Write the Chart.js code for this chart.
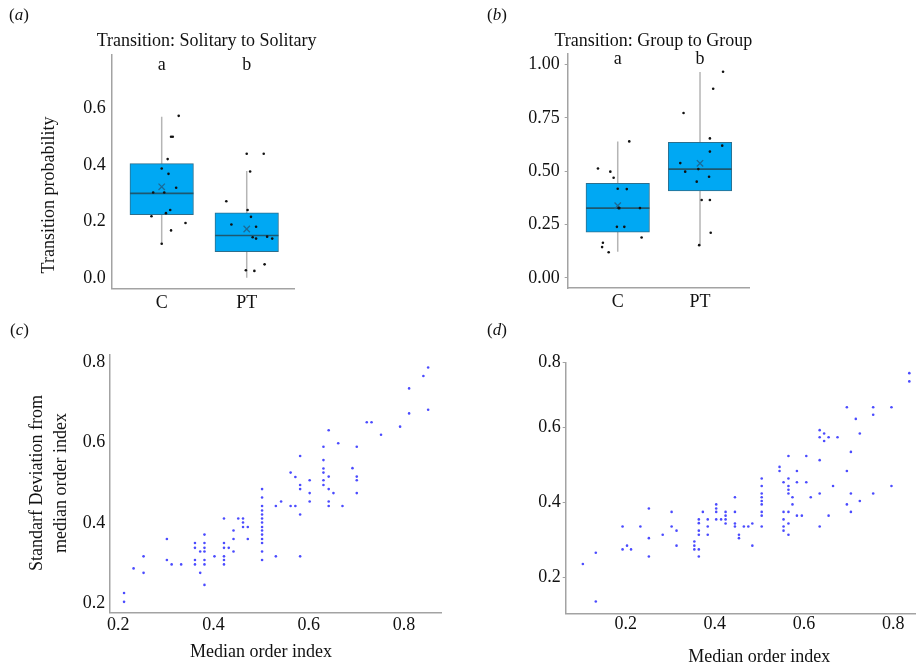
<!DOCTYPE html>
<html>
<head>
<meta charset="utf-8">
<script src="https://cdn.jsdelivr.net/npm/chart.js@4.4.1/dist/chart.umd.min.js"></script>
<style>
  body { margin: 0; background: #fff; }
  #fig { position: relative; width: 916px; height: 664px; overflow: hidden;
         font-family: "Liberation Serif", "DejaVu Serif", serif; color: #111; }
  canvas { position: absolute; }
  .t { position: absolute; font-size: 18px; line-height: 20px; white-space: nowrap; }
  .lab { font-size: 17px; transform: translateY(-50%); }
  .mid { transform: translate(-50%, -50%); text-align: center; }
  .rot { transform: translate(-50%, -50%) rotate(-90deg); text-align: center; }
</style>
</head>
<body>
<div id="fig">
  <canvas id="ca" width="458" height="310" style="left:0;top:0"></canvas>
  <canvas id="cb" width="458" height="310" style="left:458px;top:0"></canvas>
  <canvas id="cc" width="458" height="354" style="left:0;top:310px"></canvas>
  <canvas id="cd" width="458" height="354" style="left:458px;top:310px"></canvas>

  <div class="t lab" style="left:9px;top:15.3px">(<i>a</i>)</div>
  <div class="t lab" style="left:487px;top:15.3px">(<i>b</i>)</div>
  <div class="t lab" style="left:10px;top:329.6px">(<i>c</i>)</div>
  <div class="t lab" style="left:487px;top:329.6px">(<i>d</i>)</div>

  <div class="t mid" style="left:206.7px;top:39.5px">Transition: Solitary to Solitary</div>
  <div class="t mid" style="left:653.3px;top:39.8px">Transition: Group to Group</div>
  <div class="t rot" style="left:47.6px;top:195px">Transition probability</div>
  <div class="t rot" style="left:49.4px;top:483px;line-height:23.6px">Standarf Deviation from<br>median order index</div>
  <div class="t mid" style="left:261px;top:650.6px">Median order index</div>
  <div class="t mid" style="left:759.2px;top:655.6px">Median order index</div>
</div>

<script>
const groups = ["C", "PT"];
const sigLetters = ["a", "b"];

// (a) Solitary to Solitary: box statistics per group
const aQ1 = [0.224, 0.093];
const aQ3 = [0.404, 0.230];
const aMed = [0.299, 0.150];
const aLo = [0.121, 0.001];
const aHi = [0.570, 0.378];
const aMean = [0.322, 0.173];
const aValC = [0.573, 0.499, 0.499, 0.420, 0.387, 0.368, 0.319, 0.302, 0.302, 0.240, 0.229, 0.218, 0.194, 0.168, 0.121];
const aJitC = [0.20, 0.11, 0.13, 0.07, 0.00, 0.08, 0.17, -0.10, 0.03, 0.10, 0.05, -0.12, 0.28, 0.11, 0.00];
const aValPT = [0.439, 0.439, 0.376, 0.271, 0.240, 0.216, 0.189, 0.181, 0.144, 0.139, 0.146, 0.139, 0.048, 0.027, 0.025];
const aJitPT = [0.00, 0.20, 0.04, -0.24, 0.01, 0.05, -0.18, 0.11, 0.07, 0.11, 0.24, 0.30, 0.21, -0.01, 0.09];
const aYTicks = [0.0, 0.2, 0.4, 0.6];

// (b) Group to Group
const bQ1 = [0.214, 0.407];
const bQ3 = [0.443, 0.635];
const bMed = [0.327, 0.510];
const bLo = [0.122, 0.153];
const bHi = [0.640, 0.966];
const bMean = [0.338, 0.537];
const bValC = [0.513, 0.498, 0.469, 0.640, 0.418, 0.416, 0.327, 0.327, 0.327, 0.239, 0.239, 0.189, 0.164, 0.144, 0.120];
const bJitC = [-0.24, -0.09, -0.05, 0.14, 0.00, 0.11, 0.01, 0.02, 0.27, -0.01, 0.08, 0.29, -0.18, -0.19, -0.11];
const bValPT = [0.967, 0.887, 0.773, 0.654, 0.620, 0.592, 0.538, 0.498, 0.510, 0.474, 0.451, 0.365, 0.365, 0.211, 0.153];
const bJitPT = [0.28, 0.16, -0.20, 0.12, 0.27, 0.12, -0.24, -0.18, -0.02, 0.11, -0.04, 0.02, 0.12, 0.13, -0.01];
const bYTicks = [0.00, 0.25, 0.50, 0.75, 1.00];

// (c) median order index vs SD
const cX = [
  0.212, 0.212, 0.232, 0.253, 0.253, 0.302, 0.302, 0.312, 0.332,
  0.361, 0.361, 0.361, 0.361, 0.372, 0.372,
  0.381, 0.381, 0.381, 0.381, 0.381, 0.381, 0.381,
  0.402, 0.422, 0.422, 0.422, 0.422, 0.422, 0.422,
  0.432, 0.442, 0.442, 0.442, 0.452, 0.462, 0.462, 0.462, 0.472, 0.472,
  0.502, 0.502, 0.502, 0.502, 0.502, 0.502, 0.502, 0.502, 0.502, 0.502, 0.502, 0.502, 0.502, 0.502,
  0.531, 0.531, 0.542, 0.562, 0.562, 0.572, 0.572,
  0.582, 0.582, 0.582, 0.582, 0.582, 0.602, 0.602, 0.602,
  0.631, 0.631, 0.631, 0.631, 0.631, 0.631, 0.642, 0.642, 0.642, 0.642, 0.642,
  0.652, 0.662, 0.671, 0.692, 0.701, 0.701, 0.701, 0.701,
  0.722, 0.732, 0.752, 0.792, 0.811, 0.811, 0.841, 0.851, 0.851
];
const cY = [
  0.226, 0.204, 0.287, 0.317, 0.276, 0.360, 0.308, 0.297, 0.297,
  0.350, 0.338, 0.308, 0.297, 0.329, 0.276,
  0.371, 0.350, 0.338, 0.329, 0.308, 0.297, 0.246,
  0.317, 0.411, 0.350, 0.338, 0.317, 0.308, 0.297,
  0.338, 0.381, 0.360, 0.329, 0.411, 0.411, 0.401, 0.390, 0.390, 0.360,
  0.484, 0.463, 0.442, 0.431, 0.421, 0.411, 0.401, 0.390, 0.381, 0.371, 0.360, 0.350, 0.329, 0.308,
  0.442, 0.317, 0.453, 0.525, 0.442, 0.514, 0.442,
  0.566, 0.494, 0.484, 0.421, 0.317, 0.506, 0.474, 0.453,
  0.589, 0.556, 0.535, 0.525, 0.506, 0.494, 0.630, 0.515, 0.484, 0.453, 0.442,
  0.474, 0.598, 0.442, 0.536, 0.589, 0.515, 0.506, 0.474,
  0.650, 0.650, 0.619, 0.639, 0.734, 0.672, 0.765, 0.786, 0.681
];
const cXTicks = [0.2, 0.4, 0.6, 0.8];
const cYTicks = [0.2, 0.4, 0.6, 0.8];

// (d)
const dX = [
  0.104, 0.133, 0.133, 0.193, 0.193, 0.203, 0.212, 0.233,
  0.252, 0.252, 0.252, 0.283, 0.303, 0.303, 0.314, 0.314,
  0.354, 0.354, 0.354, 0.364, 0.364, 0.364, 0.364, 0.364, 0.364,
  0.373, 0.384, 0.384, 0.384, 0.403, 0.403, 0.403, 0.403, 0.414,
  0.424, 0.424, 0.424, 0.424, 0.445, 0.445, 0.445, 0.445,
  0.454, 0.454, 0.465, 0.475, 0.484, 0.484,
  0.505, 0.505, 0.505, 0.505, 0.505, 0.505, 0.505, 0.505, 0.505,
  0.545, 0.545, 0.554, 0.554, 0.554, 0.554, 0.554,
  0.565, 0.565, 0.565, 0.565, 0.565, 0.565, 0.565, 0.565,
  0.574, 0.574, 0.584, 0.584, 0.584, 0.595, 0.605, 0.605, 0.615,
  0.635, 0.635, 0.635, 0.635, 0.635, 0.645, 0.645, 0.655, 0.655, 0.665, 0.675,
  0.696, 0.696, 0.696, 0.705, 0.705, 0.705, 0.716, 0.725, 0.725,
  0.755, 0.755, 0.755, 0.796, 0.796, 0.836, 0.836
];
const dY = [
  0.236, 0.266, 0.136, 0.336, 0.275, 0.285, 0.275, 0.336,
  0.384, 0.305, 0.256, 0.314, 0.375, 0.336, 0.325, 0.285,
  0.296, 0.285, 0.275, 0.355, 0.345, 0.325, 0.314, 0.275, 0.256,
  0.375, 0.355, 0.336, 0.314, 0.395, 0.384, 0.375, 0.355, 0.355,
  0.375, 0.365, 0.355, 0.344, 0.414, 0.375, 0.344, 0.336,
  0.314, 0.305, 0.336, 0.336, 0.344, 0.285,
  0.464, 0.444, 0.424, 0.414, 0.404, 0.395, 0.375, 0.365, 0.336,
  0.495, 0.484, 0.454, 0.375, 0.355, 0.336, 0.325,
  0.524, 0.464, 0.444, 0.434, 0.424, 0.375, 0.344, 0.314,
  0.414, 0.395, 0.484, 0.454, 0.365, 0.365, 0.524, 0.454, 0.414,
  0.593, 0.574, 0.513, 0.424, 0.336, 0.584, 0.564, 0.574, 0.365, 0.444, 0.574,
  0.654, 0.484, 0.395, 0.535, 0.424, 0.375, 0.623, 0.584, 0.404,
  0.654, 0.634, 0.424, 0.654, 0.444, 0.745, 0.723
];
const dXTicks = [0.2, 0.4, 0.6, 0.8];
const dYTicks = [0.2, 0.4, 0.6, 0.8];

const serif = '"Liberation Serif", "DejaVu Serif", serif';
const tickFont = { family: serif, size: 18, lineHeight: 1 };
const axisBorder = { display: true, color: "#a3a3a3", width: 1.5 };

// draws the significance letters above each group
const letterPlugin = {
  id: "letters",
  afterDatasetsDraw(chart, args, opts) {
    const { ctx, scales: { x, y } } = chart;
    ctx.save();
    ctx.font = "18px " + serif;
    ctx.fillStyle = "#111";
    ctx.textAlign = "center";
    ctx.textBaseline = "alphabetic";
    sigLetters.forEach((t, i) => {
      ctx.fillText(t, x.getPixelForValue(i + 1), y.getPixelForValue(opts.y));
    });
    ctx.restore();
  }
};

function boxPanel(id, s) {
  const datasets = [];
  s.points.forEach((p, g) => {
    datasets.push({
      type: "scatter",
      data: p.val.map((v, i) => ({ x: g + 1 + p.jit[i], y: v })),
      pointRadius: 1.3,
      pointBackgroundColor: "#111",
      pointBorderWidth: 0,
      order: 0
    });
  });
  datasets.push({
    type: "scatter",
    data: s.mean.map((v, i) => ({ x: i + 1, y: v })),
    pointStyle: "crossRot",
    pointRadius: 4.5,
    pointBorderColor: "#1b6a96",
    pointBorderWidth: 1.3,
    order: 1
  });
  datasets.push({
    type: "scatter",
    data: s.med.map((v, i) => ({ x: i + 1, y: v })),
    pointStyle: "line",
    pointRadius: 31.7,
    pointBorderColor: "#1d5870",
    pointBorderWidth: 1.6,
    order: 2
  });
  datasets.push({
    type: "bar",
    data: s.q1.map((v, i) => ({ x: i + 1, y: [v, s.q3[i]] })),
    backgroundColor: "#00a8f3",
    borderColor: "#2d6e8c",
    borderWidth: 1,
    borderSkipped: false,
    barThickness: 63.5,
    order: 3
  });
  s.lo.forEach((v, i) => {
    datasets.push({
      type: "line",
      data: [{ x: i + 1, y: v }, { x: i + 1, y: s.hi[i] }],
      borderColor: "#b5b5b5",
      borderWidth: 1.5,
      pointRadius: 0,
      order: 4
    });
  });

  new Chart(document.getElementById(id), {
    type: "bar",
    data: { datasets },
    plugins: [letterPlugin],
    options: {
      responsive: false,
      animation: false,
      devicePixelRatio: 1,
      layout: { autoPadding: false, padding: s.pad },
      plugins: { legend: { display: false }, tooltip: { enabled: false }, letters: { y: s.letterY } },
      scales: {
        x: {
          type: "linear",
          min: s.xMin, max: s.xMax, offset: false,
          grid: { display: false, drawTicks: false },
          border: axisBorder,
          ticks: { font: tickFont, color: "#111", padding: s.xPad, callback: (v, i) => groups[i] },
          afterBuildTicks: sc => { sc.ticks = groups.map((g, i) => ({ value: i + 1 })); },
          afterFit: sc => { sc.height = s.xH; }
        },
        y: {
          type: "linear",
          min: s.yMin, max: s.yMax,
          grid: s.yGrid,
          border: axisBorder,
          ticks: { font: tickFont, color: "#111", padding: s.yPad, callback: v => v.toFixed(s.dec) },
          afterBuildTicks: sc => { sc.ticks = s.yTicks.map(v => ({ value: v })); },
          afterFit: sc => { sc.width = s.yW; }
        }
      }
    }
  });
}

function scatterPanel(id, s) {
  new Chart(document.getElementById(id), {
    type: "scatter",
    data: {
      datasets: [{
        data: s.x.map((v, i) => ({ x: v, y: s.y[i] })),
        pointRadius: 1.3,
        pointBackgroundColor: "#4b4bff",
        pointBorderWidth: 0
      }]
    },
    options: {
      responsive: false,
      animation: false,
      devicePixelRatio: 1,
      layout: { autoPadding: false, padding: s.pad },
      plugins: { legend: { display: false }, tooltip: { enabled: false } },
      scales: {
        x: {
          min: s.xMin, max: s.xMax,
          grid: { display: false, drawTicks: false },
          border: axisBorder,
          ticks: { font: tickFont, color: "#111", padding: s.xPad, callback: v => v.toFixed(1) },
          afterBuildTicks: sc => { sc.ticks = s.xTicks.map(v => ({ value: v })); },
          afterFit: sc => { sc.height = s.xH; }
        },
        y: {
          min: s.yMin, max: s.yMax,
          grid: s.yGrid,
          border: axisBorder,
          ticks: { font: tickFont, color: "#111", padding: s.yPad,
                   callback: (v, i) => s.yTicks[i].toFixed(1) },
          afterBuildTicks: sc => { sc.ticks = s.yTicks.map(v => ({ value: Math.min(v, sc.max) })); },
          afterFit: sc => { sc.width = s.yW; }
        }
      }
    }
  });
}

const noGrid = { display: false, drawTicks: false };
const shortTicks = { display: true, drawOnChartArea: false, drawTicks: true, tickLength: 3, color: "#a3a3a3" };

boxPanel("ca", {
  q1: aQ1, q3: aQ3, med: aMed, lo: aLo, hi: aHi, mean: aMean,
  points: [{ val: aValC, jit: aJitC }, { val: aValPT, jit: aJitPT }],
  yTicks: aYTicks, dec: 1, letterY: 0.735,
  xMin: 0.412, xMax: 2.556, yMin: -0.038, yMax: 0.788,
  pad: { left: 0, top: 55, right: 164, bottom: 0 }, yW: 111.7, xH: 21.3,
  xPad: 6, yPad: 6, yGrid: noGrid
});

boxPanel("cb", {
  q1: bQ1, q3: bQ3, med: bMed, lo: bLo, hi: bHi, mean: bMean,
  points: [{ val: bValC, jit: bJitC }, { val: bValPT, jit: bJitPT }],
  yTicks: bYTicks, dec: 2, letterY: 1.003,
  xMin: 0.392, xMax: 2.599, yMin: -0.048, yMax: 1.05,
  pad: { left: 0, top: 54, right: 166.7, bottom: 0 }, yW: 109.7, xH: 22,
  xPad: 5, yPad: 5, yGrid: shortTicks
});

scatterPanel("cc", {
  x: cX, y: cY, xTicks: cXTicks, yTicks: cYTicks,
  xMin: 0.181, xMax: 0.878, yMin: 0.177, yMax: 0.817,
  pad: { left: 0, top: 45, right: 17, bottom: 0 }, yW: 109.3, xH: 51.3,
  xPad: 4, yPad: 4, yGrid: noGrid
});

scatterPanel("cd", {
  x: dX, y: dY, xTicks: dXTicks, yTicks: dYTicks,
  xMin: 0.0655, xMax: 0.851, yMin: 0.1045, yMax: 0.774,
  pad: { left: 0, top: 52.3, right: 0, bottom: 0 }, yW: 107.7, xH: 50.7,
  xPad: 2, yPad: 2, yGrid: shortTicks
});
</script>
</body>
</html>
